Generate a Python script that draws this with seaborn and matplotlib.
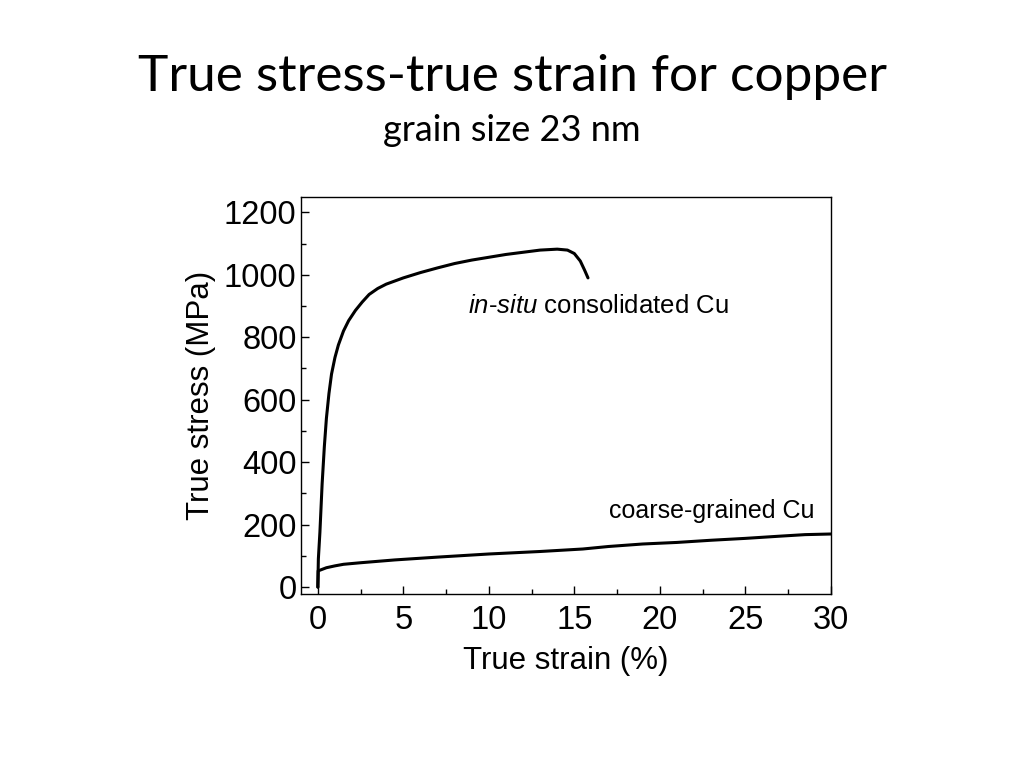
import matplotlib
matplotlib.use("Agg")
import matplotlib.pyplot as plt
from matplotlib.ticker import MultipleLocator
import pandas as pd
import seaborn as sns

# in-situ consolidated nanocrystalline Cu
insitu_strain = [0, 0.03, 0.12, 0.25, 0.38, 0.5, 0.65, 0.8, 1.0, 1.2, 1.5, 1.8, 2.2, 2.6,
                 3.0, 3.5, 4.0, 5.0, 6.0, 7.0, 8.0, 9.0, 10.0, 11.0, 12.0, 13.0, 14.0,
                 14.6, 15.0, 15.35, 15.6, 15.8]
insitu_stress = [0, 90, 175, 330, 450, 540, 620, 682, 735, 775, 820, 853, 886, 913,
                 937, 956, 970, 990, 1007, 1022, 1036, 1047, 1056, 1065, 1072, 1079, 1082,
                 1079, 1068, 1044, 1015, 990]

# coarse-grained Cu
coarse_strain = [0, 0.02, 0.5, 1.0, 1.5, 2.5, 4.5, 7, 10, 13, 15.5, 17, 19, 21, 23, 25,
                 27, 28.5, 30]
coarse_stress = [0, 52, 62, 68, 73, 78, 87, 96, 106, 114, 122, 130, 138, 143, 150, 156,
                 163, 168, 170]

x_ticks = [0, 5, 10, 15, 20, 25, 30]
y_ticks = [0, 200, 400, 600, 800, 1000, 1200]

df = pd.concat([
    pd.DataFrame({"strain": insitu_strain, "stress": insitu_stress, "series": "in-situ"}),
    pd.DataFrame({"strain": coarse_strain, "stress": coarse_stress, "series": "coarse"}),
], ignore_index=True)

sns.set_style("ticks")
plt.rcParams["font.family"] = ["Liberation Sans", "DejaVu Sans"]
plt.rcParams["mathtext.fontset"] = "custom"
plt.rcParams["mathtext.rm"] = "Liberation Sans"
plt.rcParams["mathtext.it"] = "Liberation Sans:italic"
plt.rcParams["text.color"] = "black"
plt.rcParams["axes.labelcolor"] = "black"
plt.rcParams["xtick.color"] = "black"
plt.rcParams["ytick.color"] = "black"

fig = plt.figure(figsize=(10.24, 7.68), dpi=100)
ax = fig.add_axes([0.2937, 0.2266, 0.5176, 0.5173])

sns.lineplot(data=df, x="strain", y="stress", hue="series", units="series",
             estimator=None, sort=False, palette=["black", "black"], linewidth=2.2,
             legend=False, ax=ax)

ax.set_xlim(-1, 30)
ax.set_ylim(-22, 1250)
ax.set_xticks(x_ticks)
ax.set_yticks(y_ticks)
ax.xaxis.set_minor_locator(MultipleLocator(2.5))
ax.yaxis.set_minor_locator(MultipleLocator(100))
ax.tick_params(which="both", direction="in", top=False, right=False, width=1, color="black")
ax.tick_params(which="major", length=5.5, labelsize=23.5)
ax.tick_params(which="minor", length=3.5)
ax.tick_params(axis="x", pad=8)
ax.tick_params(axis="y", pad=3)
for s in ax.spines.values():
    s.set_visible(True)
    s.set_linewidth(1.0)
    s.set_color("black")

ax.set_xlabel("True strain (%)", fontsize=22.5, labelpad=7)
ax.set_ylabel("True stress (MPa)", fontsize=22.5, labelpad=6)

ax.text(8.8, 900, r"$\mathit{in}$-$\mathit{situ}$ consolidated Cu", fontsize=18.5, va="center")
ax.text(17.0, 244, "coarse-grained Cu", fontsize=18, va="center")

fig.text(0.5, 0.900, "True stress-true strain for copper", fontsize=37,
         family=["Lato", "DejaVu Sans"], ha="center", va="center")
fig.text(0.5, 0.83, "grain size 23 nm", fontsize=26,
         family=["Lato", "DejaVu Sans"], ha="center", va="center")

fig.savefig("out.png", dpi=100)
